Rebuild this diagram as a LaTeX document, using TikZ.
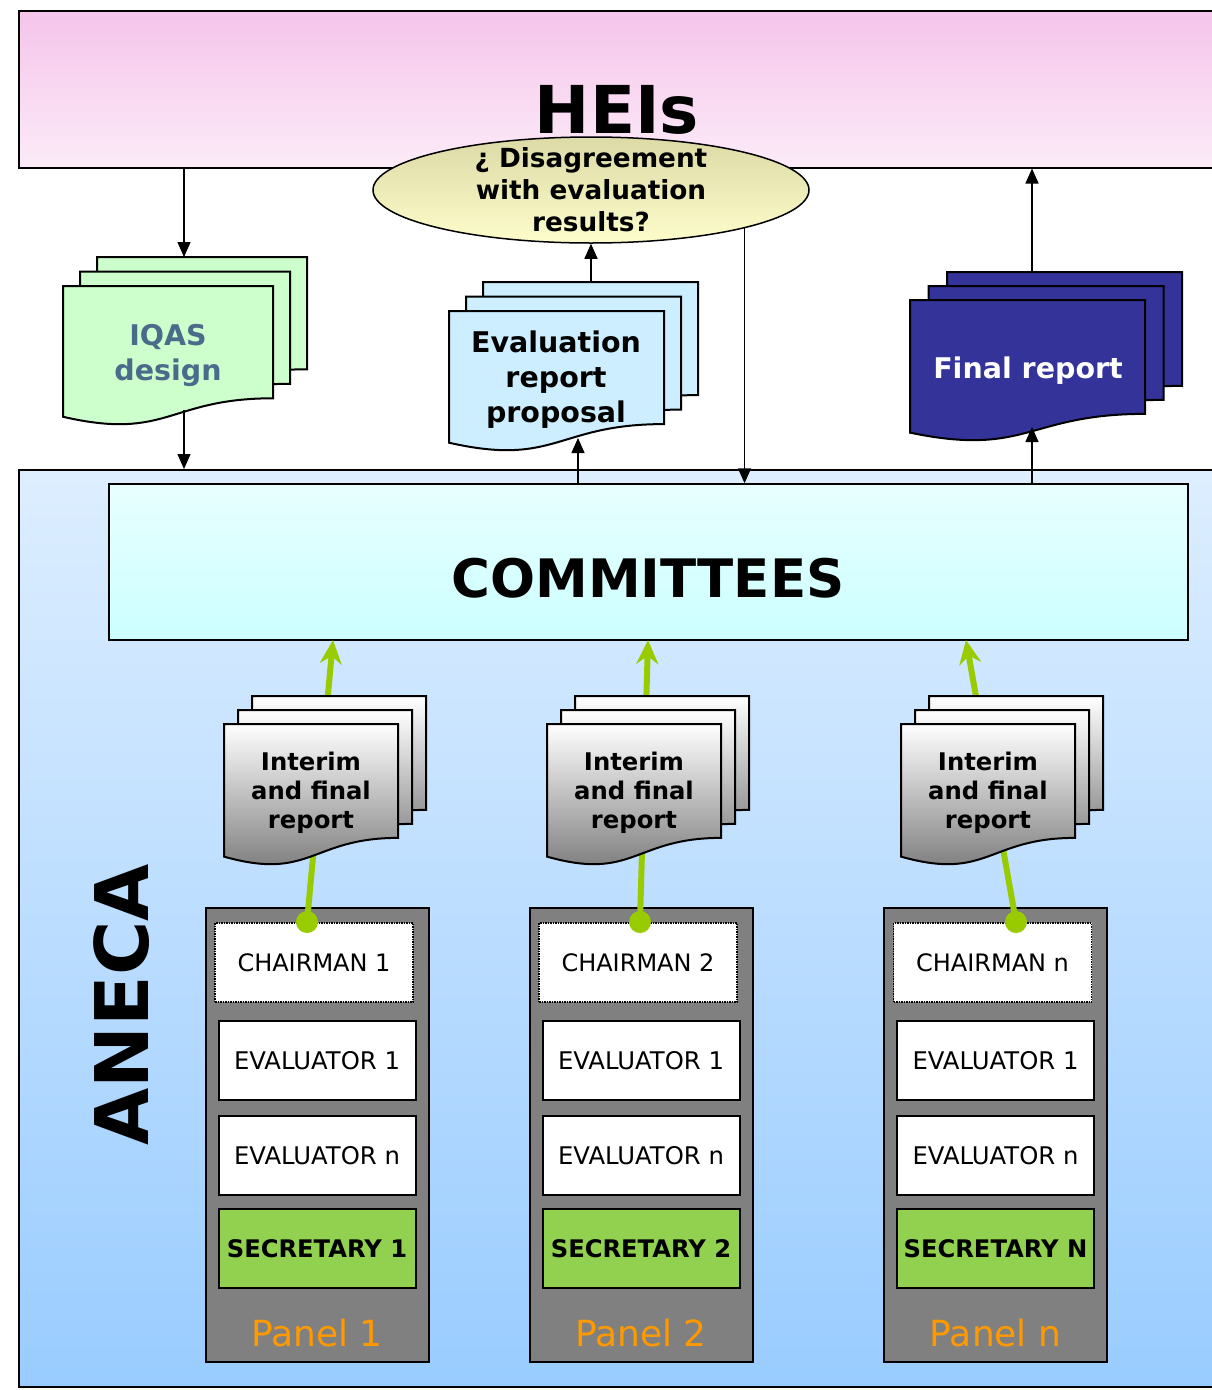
\documentclass[tikz,border=0pt]{standalone}
\usepackage{fontspec}
\setmainfont{DejaVu Sans}
\usetikzlibrary{positioning, arrows.meta, calc, shapes.geometric}

\definecolor{heistop}{HTML}{F5C4EA}
\definecolor{heisbot}{HTML}{FCEBF8}
\definecolor{asktop}{HTML}{DCDAA6}
\definecolor{askbot}{HTML}{FDFDCB}
\definecolor{iqasfill}{HTML}{CCFFCC}
\definecolor{iqastext}{HTML}{4A6B8A}
\definecolor{evalfill}{HTML}{CCEEFF}
\definecolor{finalfill}{HTML}{333399}
\definecolor{anecatop}{HTML}{DDEEFF}
\definecolor{anecabot}{HTML}{99CCFF}
\definecolor{commtop}{HTML}{E8FFFF}
\definecolor{commbot}{HTML}{CCFFFF}
\definecolor{panelgrey}{HTML}{808080}
\definecolor{secgreen}{HTML}{92D050}
\definecolor{panelorange}{HTML}{FF9900}
\definecolor{feedgreen}{HTML}{99CC00}

% one sheet: x, y (top left), width, height, style
\newcommand{\docsheet}[5]{%
  \draw[#5] ({#1},{#2}) -- ({#1+#3},{#2}) -- ({#1+#3},{#2+0.802*#4})
    .. controls ({#1+0.5*#3},{#2+0.802*#4}) and ({#1+0.5*#3},{#2+1.107*#4})
    .. ({#1},{#2+0.934*#4}) -- cycle;}
% three sheets: x, y (front sheet), width, height, dx, dy, style
\newcommand{\docstack}[7]{%
  \docsheet{#1+2*#5}{#2-2*#6}{#3}{#4}{#7}%
  \docsheet{#1+#5}{#2-#6}{#3}{#4}{#7}%
  \docsheet{#1}{#2}{#3}{#4}{#7}}

\begin{document}
\begin{tikzpicture}[
        x=1pt, y=-1pt,
        % --- boxes ---
        heisbox/.style={
                draw=black, line width=1.5pt,
                top color=heistop, bottom color=heisbot,
                inner sep=0pt, anchor=north west
            },
        anecabox/.style={
                draw=black, line width=1.5pt,
                top color=anecatop, bottom color=anecabot,
                inner sep=0pt, anchor=north west
            },
        commbox/.style={
                draw=black, line width=1.5pt,
                top color=commtop, bottom color=commbot,
                inner sep=0pt
            },
        bigtitle/.style={
                font=\bfseries\fontsize{53}{53}\selectfont,
                inner sep=0pt
            },
        question/.style={
                ellipse, draw=black, line width=1.5pt,
                top color=asktop, bottom color=askbot,
                minimum width=436pt, minimum height=106pt,
                inner xsep=0pt, inner ysep=-14pt,
                align=center, font=\bfseries\fontsize{26.3}{32}\selectfont
            },
        % --- documents ---
        iqassheet/.style={draw=black, line width=2pt, fill=iqasfill},
        evalsheet/.style={draw=black, line width=2pt, fill=evalfill},
        finalsheet/.style={draw=black, line width=2pt, fill=finalfill},
        greysheet/.style={draw=black, line width=2pt, top color=white, bottom color=black!55},
        doctext/.style={
                align=center, inner sep=0pt,
                font=\bfseries\fontsize{28.5}{35}\selectfont
            },
        smalldoctext/.style={
                align=center, inner sep=0pt,
                font=\bfseries\fontsize{24.3}{29}\selectfont
            },
        % --- panels ---
        panelbox/.style={
                draw=black, line width=2pt, fill=panelgrey,
                minimum width=223pt, minimum height=454pt, inner sep=0pt
            },
        chairbox/.style={
                draw=black, densely dotted, line width=1.5pt, fill=white,
                minimum width=198pt, minimum height=79pt, inner sep=0pt,
                font=\fontsize{24}{24}\selectfont
            },
        memberbox/.style={
                draw=black, line width=2pt, fill=white,
                minimum width=197pt, minimum height=79pt, inner sep=0pt,
                font=\fontsize{24.3}{24}\selectfont
            },
        secbox/.style={
                memberbox, fill=secgreen,
                font=\bfseries\fontsize{24.2}{24}\selectfont
            },
        paneltitle/.style={
                text=panelorange, inner sep=0pt,
                font=\fontsize{36}{36}\selectfont
            },
        % --- connectors ---
        flow/.style={
                -{Triangle[width=13pt, length=15pt]}, line width=1.5pt
            },
        feed/.style={
                -{Stealth[width=22pt, length=24pt, inset=8pt]},
                line width=6pt, color=feedgreen
            }
    ]

    \useasboundingbox (0,0) rectangle (1211,1390);
    \fill[white] (0,0) rectangle (1211,1390);

    % 1. HEIs
    \node[heisbox, minimum width=1260pt, minimum height=157pt] (heis) at (18,10) {};
    \node[font=\bfseries\fontsize{66}{66}\selectfont, inner sep=0pt] (heislbl) at (617,110) {HEIs};

    % 2. ANECA and committees
    \node[anecabox, minimum width=1260pt, minimum height=917pt] (aneca) at (18,469) {};
    \node[font=\bfseries\fontsize{74}{74}\selectfont, inner sep=0pt, rotate=90] (anecalbl) at (122,1005) {ANECA};
    \node[commbox, minimum width=1079pt, minimum height=156pt] (comm) at (648.5,562) {};
    \node[bigtitle] (commlbl) at (648,578) {COMMITTEES};

    % 3. Documents between HEIs and ANECA
    \docstack{63}{286}{210}{140}{17}{14.5}{iqassheet}
    \node[doctext, text=iqastext] (iqas) at (168,355) {IQAS\\design};
    \docstack{449}{311}{215}{141}{17}{14.5}{evalsheet}
    \node[doctext] (evalprop) at (556,380) {Evaluation\\report\\proposal};
    \docstack{910}{300}{235}{142}{18.5}{14}{finalsheet}
    \node[doctext, text=white] (final) at (1028,371) {Final report};

    \node[question] (disagree) at (591,190) {¿ Disagreement\\with evaluation\\results?};

    % 4. Arrows
    \coordinate (iqasin) at (184,257);
    \coordinate (iqasout) at (184,410);
    \draw[flow] (heis.south -| iqasin) -- (iqasin);
    \draw[flow] (iqasout) -- (aneca.north -| iqasout);
    \coordinate (evalin) at (578,438);
    \coordinate (evalout) at (591,282);
    \draw[flow] (comm.north -| evalin) -- (evalin);
    \draw[flow] (evalout) -- (disagree.south);
    \draw[flow] (disagree.-14) -- (disagree.-14 |- comm.north);
    \coordinate (finalin) at (1032,427);
    \coordinate (finalout) at (1032,272);
    \draw[flow] (comm.north -| finalin) -- (finalin);
    \draw[flow] (finalout) -- (heis.south -| finalout);

    % 5. Panels
    \foreach \cx/\dx/\fx/\gx/\num/\sec in {317/307/224/333/1/1, 641/640/547/648/2/2, 995.5/1016/901/966/n/N} {
        \node[panelbox] (panel\num) at (\cx,1135) {};
        \node[chairbox] (chair\num) at (\cx-3,962.5) {CHAIRMAN \num};
        \node[memberbox] (evone\num) at (\cx,1060.5) {EVALUATOR 1};
        \node[memberbox, below=14pt of evone\num] (evn\num) {EVALUATOR n};
        \node[secbox, below=12pt of evn\num] (sec\num) {SECRETARY \sec};
        \node[paneltitle] (ptitle\num) at (\cx,1333) {Panel \num};

        % report sent up to the committees
        \coordinate (dot\num) at (\dx,922);
        \coordinate (tip\num) at (\gx,640);
        \draw[feed] (dot\num) -- (tip\num);
        \fill[feedgreen] (dot\num) circle (11pt);
        \docstack{\fx}{724}{174}{142}{14}{14}{greysheet}
        \node[smalldoctext] (interim\num) at ({\fx+87},793) {Interim\\and final\\report};
    }

\end{tikzpicture}
\end{document}
